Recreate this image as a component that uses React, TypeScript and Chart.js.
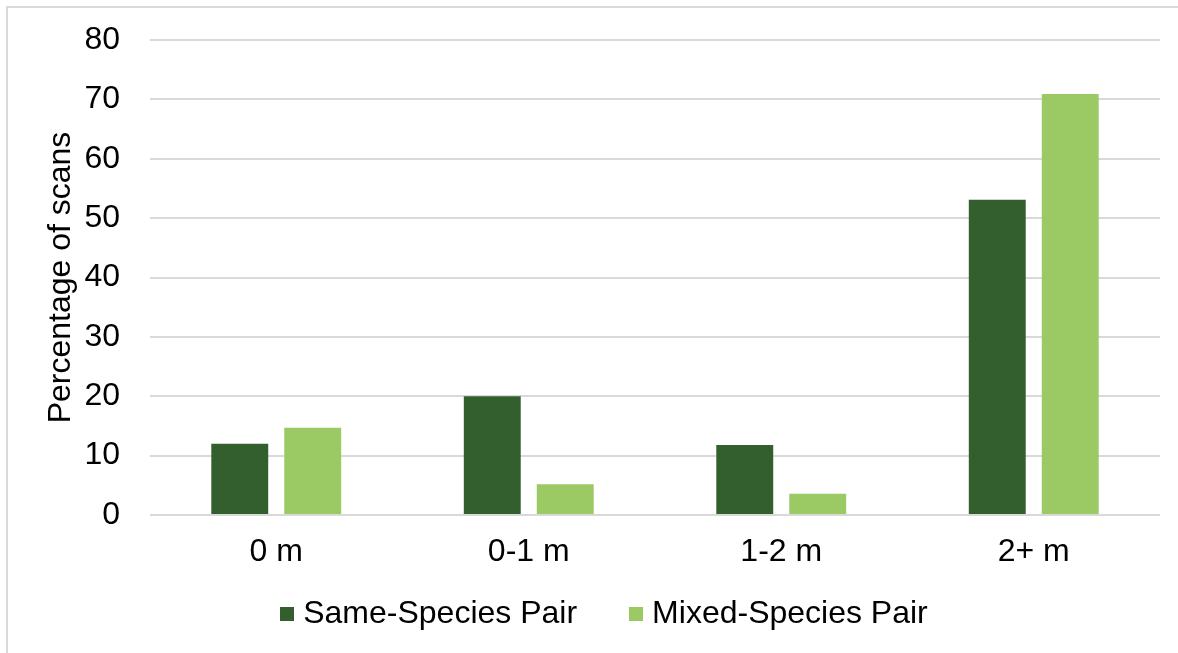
import React, { useEffect, useRef } from "react";
import { Chart, registerables } from "chart.js";

Chart.register(...registerables);

const categories = ["0 m", "0-1 m", "1-2 m", "2+ m"];
const sameSpecies = [12, 20, 11.8, 53.1];
const mixedSpecies = [14.7, 5.2, 3.6, 70.9];
const seriesLabels = ["Same-Species Pair", "Mixed-Species Pair"];
const yTicks = [0, 10, 20, 30, 40, 50, 60, 70, 80];

const FONT = "'Liberation Sans', Arial, sans-serif";
const FS = 32;
const DARK = "#335F2F";
const LIGHT = "#9BC963";
const GRID = "#d9d9d9";

const bottomLegend = {
  id: "bottomLegend",
  afterDraw(chart: any) {
    const ctx = chart.ctx as CanvasRenderingContext2D;
    const ds = chart.data.datasets;
    const box = 14;
    const gapText = 9;
    const gapItem = 52;
    ctx.save();
    ctx.font = `${FS}px ${FONT}`;
    const widths = ds.map((d: any) => ctx.measureText(d.label).width);
    const total =
      widths.reduce((s: number, w: number) => s + box + gapText + w, 0) +
      gapItem * (ds.length - 1);
    let x = chart.width / 2 + 15 - total / 2;
    const y = chart.chartArea.bottom + 99;
    ctx.textBaseline = "middle";
    ctx.textAlign = "left";
    ds.forEach((d: any, i: number) => {
      ctx.fillStyle = d.backgroundColor;
      ctx.fillRect(Math.round(x), Math.round(y - box / 2), box, box);
      x += box + gapText;
      ctx.fillStyle = "#000";
      ctx.fillText(d.label, x, y);
      x += widths[i] + gapItem;
    });
    ctx.restore();
  },
};

export default function App() {
  const ref = useRef<HTMLCanvasElement | null>(null);

  useEffect(() => {
    if (!ref.current) return;
    const chart = new Chart(ref.current, {
      type: "bar",
      data: {
        labels: categories,
        datasets: [
          {
            label: seriesLabels[0],
            data: sameSpecies,
            backgroundColor: DARK,
            categoryPercentage: 0.578,
            barPercentage: 0.78,
          },
          {
            label: seriesLabels[1],
            data: mixedSpecies,
            backgroundColor: LIGHT,
            categoryPercentage: 0.578,
            barPercentage: 0.78,
          },
        ],
      },
      plugins: [bottomLegend],
      options: {
        responsive: false,
        animation: false,
        devicePixelRatio: 1,
        layout: { padding: { top: 40, right: 18, left: 42, bottom: 78 } },
        plugins: {
          tooltip: { enabled: false },
          legend: { display: false },
        },
        scales: {
          x: {
            grid: { display: false, drawTicks: false },
            border: { display: false },
            ticks: {
              font: { family: FONT, size: FS },
              color: "#000",
              padding: 18,
            },
            afterFit: (scale: any) => {
              scale.height = 60;
            },
          },
          y: {
            min: 0,
            max: 80,
            afterBuildTicks: (scale: any) => {
              scale.ticks = yTicks.map((v) => ({ value: v }));
            },
            grid: { color: GRID, lineWidth: 2, drawTicks: false },
            border: { display: false },
            ticks: {
              font: { family: FONT, size: FS },
              color: "#000",
              padding: 30,
            },
            title: {
              display: true,
              text: "Percentage of scans",
              font: { family: FONT, size: FS },
              color: "#000",
              padding: { top: 0, bottom: 0 },
            },
            afterFit: (scale: any) => {
              scale.width = 108;
              scale.paddingTop = 0;
              scale.paddingBottom = 0;
            },
          },
        },
      },
    });
    return () => chart.destroy();
  }, []);

  return (
    <div
      style={{
        position: "absolute",
        left: 0,
        top: 0,
        width: 1178,
        height: 653,
        overflow: "hidden",
        background: "#fff",
      }}
    >
      <div
        style={{
          position: "absolute",
          left: 6,
          top: 6,
          width: 1300,
          height: 800,
          border: `2px solid ${GRID}`,
          boxSizing: "border-box",
        }}
      />
      <canvas
        ref={ref}
        width={1178}
        height={653}
        style={{ position: "absolute", left: 0, top: 0, width: 1178, height: 653 }}
      />
    </div>
  );
}
